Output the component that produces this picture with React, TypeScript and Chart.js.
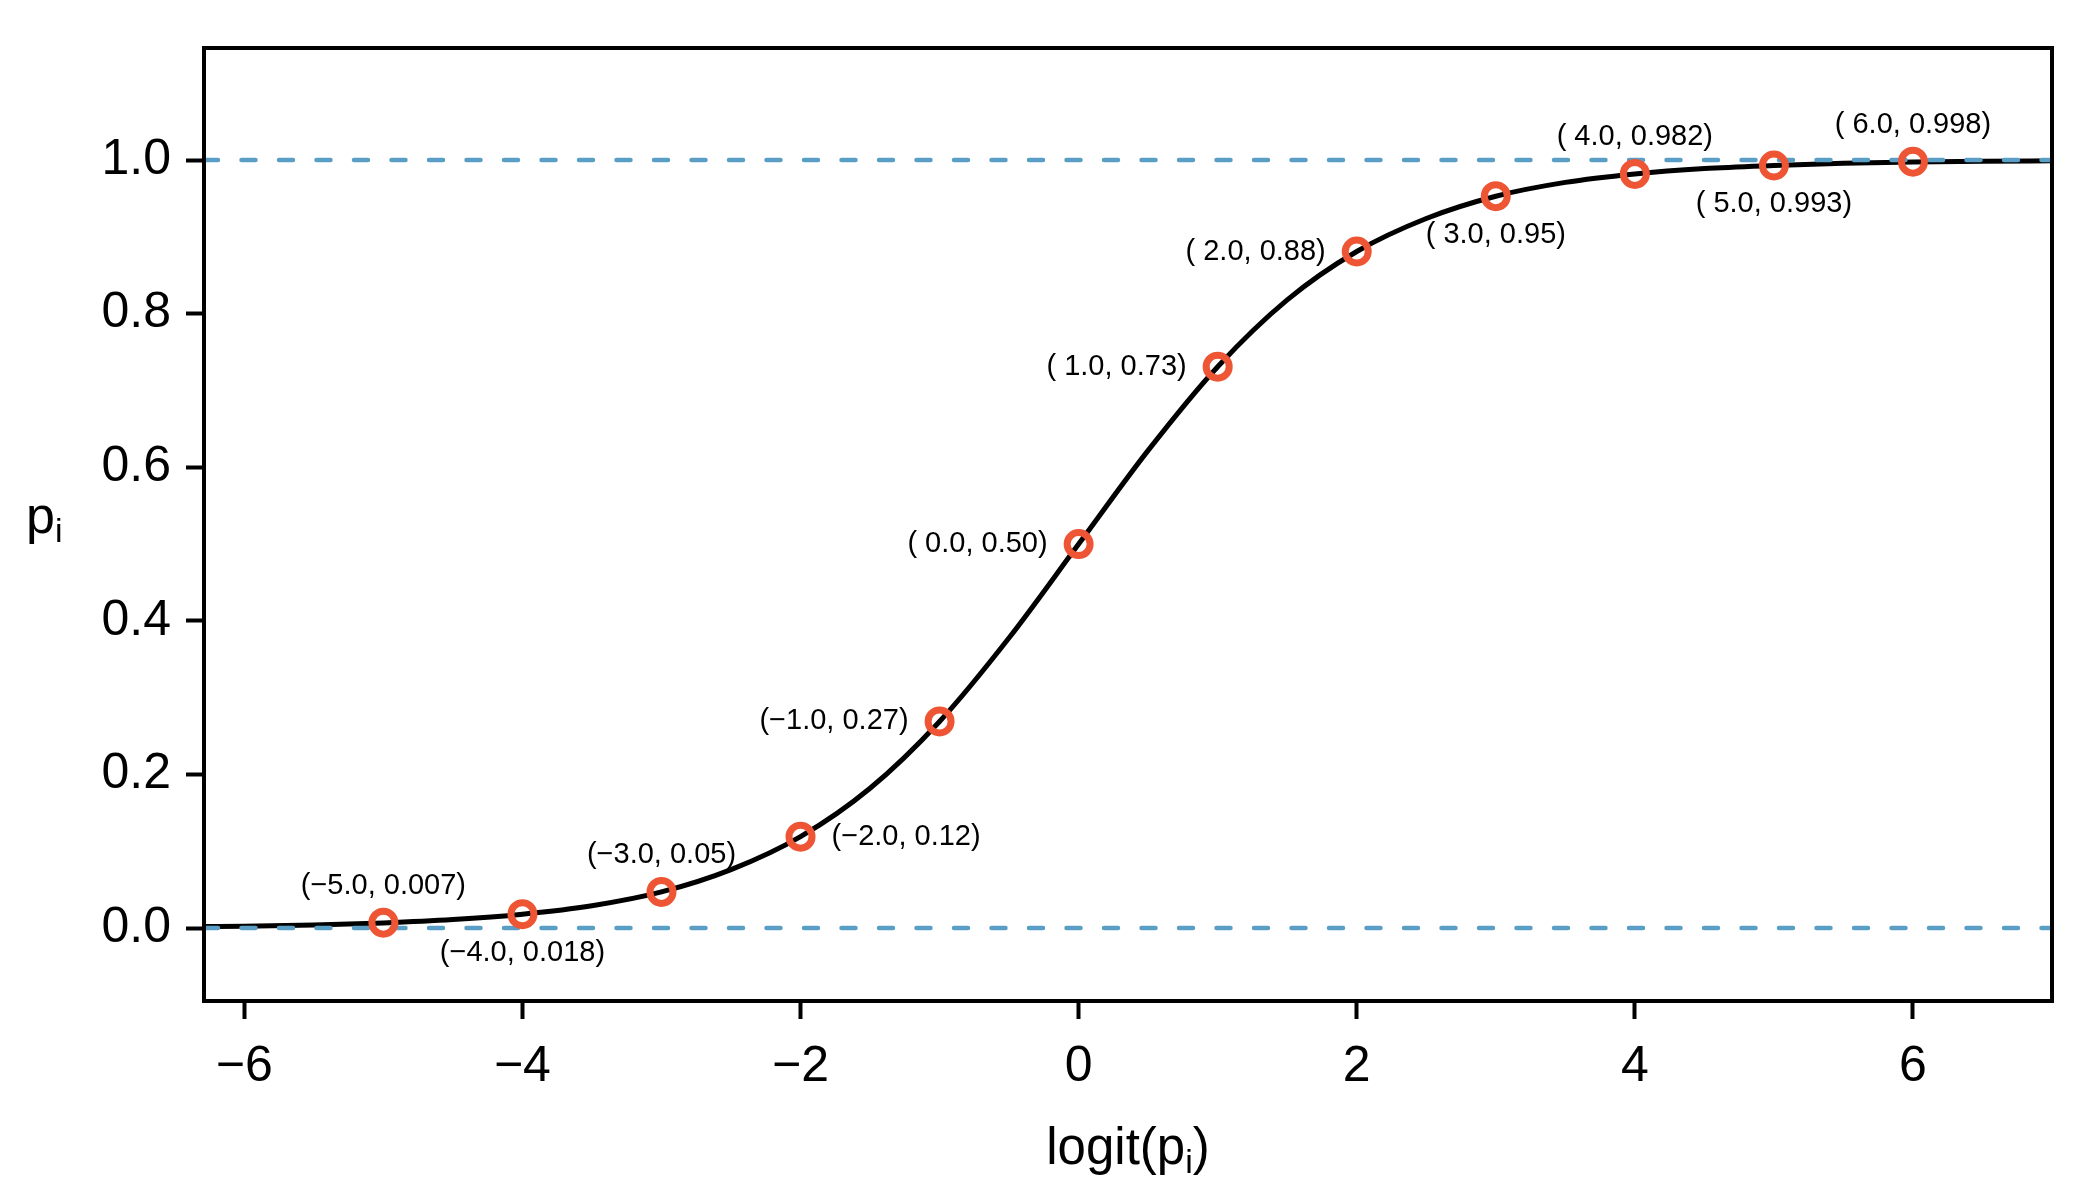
import React, { useEffect, useRef } from "react";
import { Chart, registerables } from "chart.js";

Chart.register(...registerables);

// Logistic curve
const curveX = [-6.29, -6, -5.5, -5, -4.5, -4, -3.5, -3, -2.5, -2, -1.5, -1, -0.5, 0, 0.5, 1, 1.5, 2, 2.5, 3, 3.5, 4, 4.5, 5, 5.5, 6, 6.5, 7];
const curveY = [0.0019, 0.0025, 0.0041, 0.0067, 0.011, 0.018, 0.029, 0.047, 0.076, 0.119, 0.182, 0.269, 0.378, 0.5, 0.622, 0.731, 0.818, 0.881, 0.924, 0.953, 0.971, 0.982, 0.989, 0.993, 0.996, 0.9975, 0.9985, 0.9991];

// Marked points
const pointX = [-5, -4, -3, -2, -1, 0, 1, 2, 3, 4, 5, 6];
const pointY = [0.007, 0.018, 0.047, 0.119, 0.269, 0.5, 0.731, 0.881, 0.953, 0.982, 0.993, 0.998];
const pointLabels = [
  "(\u22125.0, 0.007)",
  "(\u22124.0, 0.018)",
  "(\u22123.0, 0.05)",
  "(\u22122.0, 0.12)",
  "(\u22121.0, 0.27)",
  "( 0.0, 0.50)",
  "( 1.0, 0.73)",
  "( 2.0, 0.88)",
  "( 3.0, 0.95)",
  "( 4.0, 0.982)",
  "( 5.0, 0.993)",
  "( 6.0, 0.998)",
];
const labelSide = ["above", "below", "above", "right", "left", "left", "left", "left", "below", "above", "below", "above"];

// Reference (dashed) levels
const refLevels = [0, 1];

// Axes
const xTicks = [-6, -4, -2, 0, 2, 4, 6];
const yTicks = [0, 0.2, 0.4, 0.6, 0.8, 1.0];
const xRange = [-6.29, 7.0];
const yRange = [-0.095, 1.146];
const xTitle = { main: "logit(p", sub: "i", tail: ")" };
const yTitle = { main: "p", sub: "i", tail: "" };

const FONT = '"Liberation Sans", Arial, Helvetica, sans-serif';
const RED = "#EE5534";
const BLUE = "#5A9EC5";

function drawSubText(ctx: CanvasRenderingContext2D, t: { main: string; sub: string; tail: string }, x: number, y: number, size: number, subSize: number, subDrop: number, align: "left" | "center") {
  ctx.font = `${size}px ${FONT}`;
  const w1 = ctx.measureText(t.main).width;
  const w3 = t.tail ? ctx.measureText(t.tail).width : 0;
  ctx.font = `${subSize}px ${FONT}`;
  const w2 = ctx.measureText(t.sub).width;
  const total = w1 + w2 + w3;
  const sx = align === "center" ? x - total / 2 : x;
  ctx.textAlign = "left";
  ctx.textBaseline = "alphabetic";
  ctx.font = `${size}px ${FONT}`;
  ctx.fillText(t.main, sx, y);
  ctx.font = `${subSize}px ${FONT}`;
  ctx.fillText(t.sub, sx + w1, y + subDrop);
  if (t.tail) {
    ctx.font = `${size}px ${FONT}`;
    ctx.fillText(t.tail, sx + w1 + w2, y);
  }
}

const annotatePlugin = {
  id: "annotate",
  afterDatasetsDraw(chart: any) {
    const { ctx, chartArea: a, scales } = chart;
    const xs = scales.x;
    const ys = scales.y;
    ctx.save();
    // point labels
    ctx.fillStyle = "#000";
    ctx.font = `29px ${FONT}`;
    ctx.textBaseline = "middle";
    pointX.forEach((v, i) => {
      const px = xs.getPixelForValue(v);
      const py = ys.getPixelForValue(pointY[i]);
      const side = labelSide[i];
      let tx = px;
      let ty = py;
      if (side === "above") {
        ctx.textAlign = "center";
        ty = py - 37;
      } else if (side === "below") {
        ctx.textAlign = "center";
        ty = py + 39;
      } else if (side === "left") {
        ctx.textAlign = "right";
        tx = px - 31;
      } else {
        ctx.textAlign = "left";
        tx = px + 31;
      }
      ctx.fillText(pointLabels[i], tx, ty);
    });
    // box
    ctx.lineWidth = 4;
    ctx.strokeStyle = "#000";
    ctx.lineJoin = "miter";
    ctx.strokeRect(a.left, a.top, a.right - a.left, a.bottom - a.top);
    // axis titles
    ctx.fillStyle = "#000";
    drawSubText(ctx, xTitle, (a.left + a.right) / 2, 1164, 51, 34, 9, "center");
    drawSubText(ctx, yTitle, 26, 533, 52, 34, 9, "left");
    ctx.restore();
  },
};

export default function App() {
  const ref = useRef<HTMLCanvasElement | null>(null);
  useEffect(() => {
    if (!ref.current) return;
    const datasets: any[] = [
      {
        label: "points",
        data: pointX.map((x, i) => ({ x, y: pointY[i] })),
        showLine: false,
        pointRadius: 11.5,
        pointBorderWidth: 7,
        pointBorderColor: RED,
        pointBackgroundColor: "rgba(0,0,0,0)",
        pointStyle: "circle",
        order: 0,
      },
      ...refLevels.map((lv) => ({
        label: "ref" + lv,
        data: [
          { x: xRange[0], y: lv },
          { x: xRange[1], y: lv },
        ],
        borderColor: BLUE,
        borderWidth: 4.5,
        borderDash: [14, 23.5],
        borderCapStyle: "round",
        pointRadius: 0,
        fill: false,
        order: 1,
      })),
      {
        label: "curve",
        data: curveX.map((x, i) => ({ x, y: curveY[i] })),
        borderColor: "#000",
        borderWidth: 5,
        pointRadius: 0,
        cubicInterpolationMode: "monotone",
        fill: false,
        order: 2,
      },
    ];
    const chart = new Chart(ref.current, {
      type: "line",
      data: { datasets },
      options: {
        responsive: false,
        animation: false,
        events: [],
        devicePixelRatio: 1,
        layout: { padding: { top: 48, right: 48, left: 0, bottom: 0 } },
        plugins: { legend: { display: false }, tooltip: { enabled: false } },
        scales: {
          x: {
            type: "linear",
            min: xRange[0],
            max: xRange[1],
            afterBuildTicks: (s: any) => {
              s.ticks = xTicks.map((v) => ({ value: v }));
            },
            afterFit: (s: any) => {
              s.height = 199;
            },
            border: { display: false },
            grid: { display: true, drawOnChartArea: false, drawTicks: true, tickLength: 18, tickWidth: 4, tickColor: "#000" },
            ticks: {
              autoSkip: false,
              maxRotation: 0,
              padding: 18,
              color: "#000",
              font: { family: FONT, size: 50 },
              callback: (v: any) => (Number(v) < 0 ? "\u2212" + Math.abs(Number(v)) : String(v)),
            },
          },
          y: {
            type: "linear",
            min: yRange[0],
            max: yRange[1],
            afterBuildTicks: (s: any) => {
              s.ticks = yTicks.map((v) => ({ value: v }));
            },
            afterFit: (s: any) => {
              s.width = 204;
            },
            border: { display: false },
            grid: { display: true, drawOnChartArea: false, drawTicks: true, tickLength: 18, tickWidth: 4, tickColor: "#000" },
            ticks: {
              autoSkip: false,
              padding: 15,
              color: "#000",
              font: { family: FONT, size: 50 },
              callback: (v: any) => Number(v).toFixed(1),
            },
          },
        },
      },
      plugins: [annotatePlugin],
    } as any);
    return () => chart.destroy();
  }, []);
  return (
    <div style={{ position: "absolute", left: 0, top: 0, width: 2100, height: 1200, background: "#fff" }}>
      <canvas ref={ref} width={2100} height={1200} style={{ width: 2100, height: 1200, display: "block" }} />
    </div>
  );
}
